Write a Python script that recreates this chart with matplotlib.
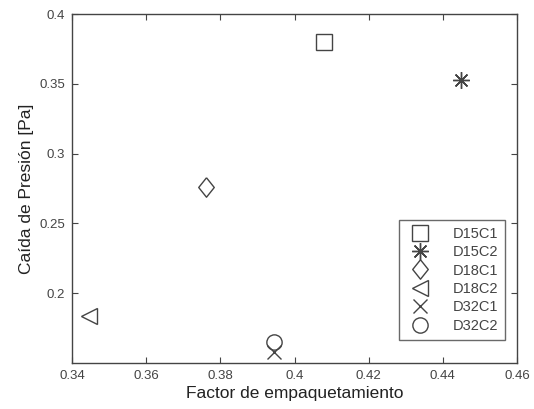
import matplotlib
matplotlib.use("Agg")
import matplotlib.pyplot as plt

plt.rcParams['font.family'] = ['Liberation Sans', 'DejaVu Sans']

names = ["D15C1", "D15C2", "D18C1", "D18C2", "D32C1", "D32C2"]
factor = [0.408, 0.445, 0.376, 0.3445, 0.3945, 0.3945]
caida = [0.380, 0.353, 0.276, 0.1835, 0.158, 0.165]
markers = ["s", (8, 2, 0), [(0, 1), (0.8, 0), (0, -1), (-0.8, 0), (0, 1)], "<", "x", "o"]
sizes = [11, 12, 14, 12, 10, 11]

col = "#444444"
fig = plt.figure(figsize=(5.34, 4.09), dpi=100)
ax = fig.add_axes([72 / 534, 1 - 363 / 409, (517 - 72) / 534, (363 - 14) / 409])

for i in range(len(names)):
    ax.plot(factor[i], caida[i], linestyle="none", marker=markers[i], markersize=sizes[i],
            markerfacecolor="none", markeredgecolor=col, color=col,
            markeredgewidth=1.0, label=names[i])

ax.set_xlim(0.34, 0.46)
ax.set_ylim(0.15, 0.4)
ax.set_xticks([0.34, 0.36, 0.38, 0.40, 0.42, 0.44, 0.46])
ax.set_xticklabels(["0.34", "0.36", "0.38", "0.4", "0.42", "0.44", "0.46"])
ax.set_yticks([0.2, 0.25, 0.3, 0.35, 0.4])
ax.set_yticklabels(["0.2", "0.25", "0.3", "0.35", "0.4"])
ax.tick_params(direction="in", length=4, labelsize=9.5, colors=col, top=True, right=True, pad=5)
for s in ax.spines.values():
    s.set_color(col)
    s.set_linewidth(1.0)

ax.set_xlabel("Factor de empaquetamiento", fontsize=12.5, color="#222222", labelpad=3)
ax.set_ylabel("Caída de Presión [Pa]", fontsize=12.5, color="#222222", labelpad=4)

leg = ax.legend(loc="lower right", bbox_to_anchor=(0.99, 0.045), fontsize=10.5,
                frameon=True, fancybox=False, edgecolor=col, handletextpad=1.2,
                labelspacing=0.3, borderpad=0.5, labelcolor=col, markerscale=1.0)
leg.get_frame().set_linewidth(1.0)

fig.savefig("out.png", dpi=100)
